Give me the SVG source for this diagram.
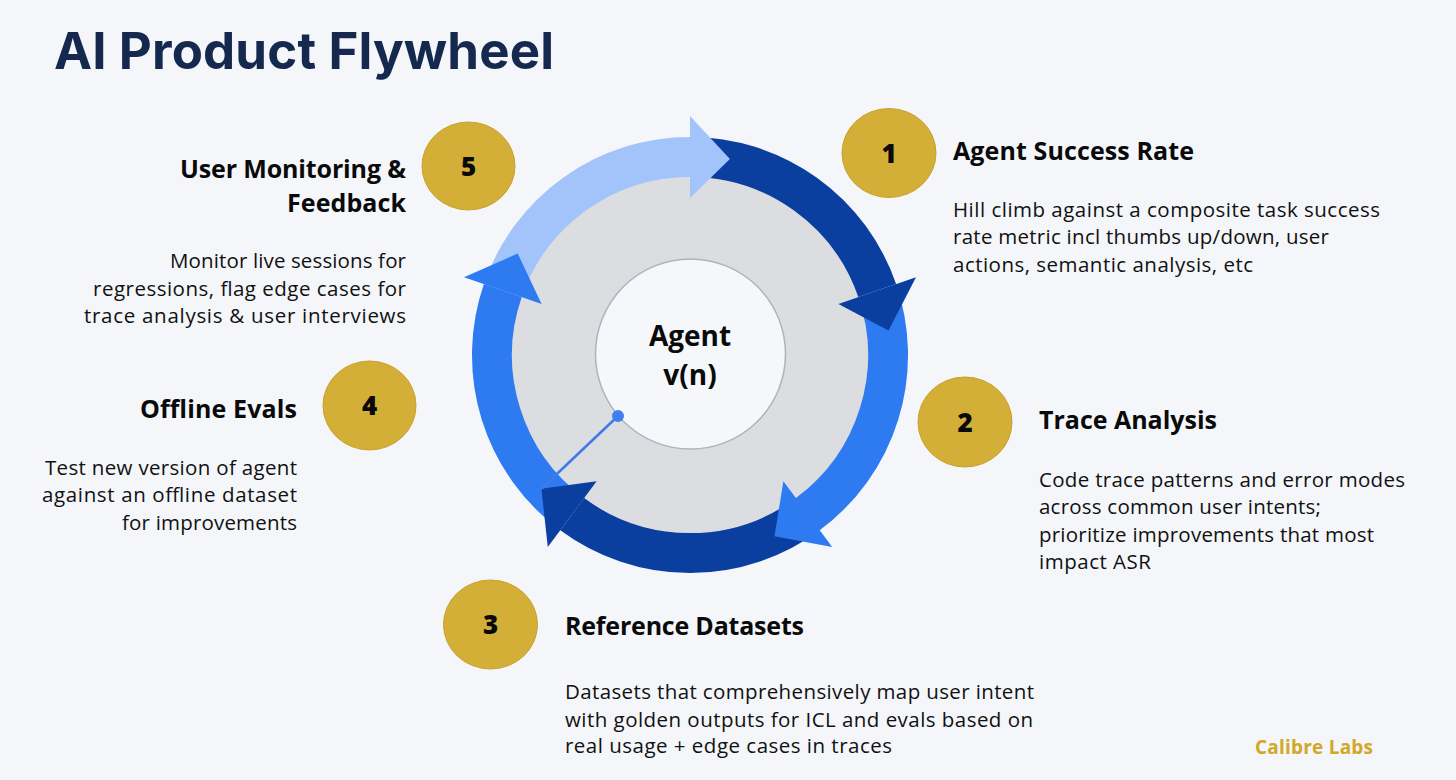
<svg xmlns="http://www.w3.org/2000/svg" width="1456" height="780" viewBox="0 0 1456 780">
<defs>
<style>
.title{font-family:Inter,"Open Sans",sans-serif;font-weight:700;font-size:51px;fill:#14294d}
.h{font-family:"Open Sans","Noto Sans",sans-serif;font-weight:700;font-size:25px;fill:#0a0a0a}
.b{font-family:"Open Sans","Noto Sans",sans-serif;font-weight:400;font-size:20.5px;fill:#111111}
.num{font-family:"Open Sans","Noto Sans",sans-serif;font-weight:800;font-size:26px;fill:#0a0a0a;text-anchor:middle}
.gold{fill:#d4af37;stroke:#c8a22c;stroke-width:1}
.shaft{fill:none;stroke-width:40;stroke-linecap:butt}
.light{stroke:#a3c4fa}
.dark{stroke:#0a3f9f}
.mid{stroke:#2e7bf1}
.hl{fill:#a3c4fa}
.hd{fill:#0a3f9f}
.hm{fill:#2e7bf1}
.center{font-family:"Open Sans","Noto Sans",sans-serif;font-weight:700;font-size:28px;fill:#0a0a0a;text-anchor:middle}
.r{text-anchor:end}
</style>
</defs>
<rect width="1456" height="780" fill="#f4f6fa"/>
<text class="title" x="54" y="69" textLength="500">AI Product Flywheel</text>

<g id="wheel">
<circle cx="690" cy="355" r="200" fill="#dcdde1"/>
</g>
<g id="connectors">
<path class="shaft light" d="M502.8 290.5 A198 198 0 0 1 690 157"/>
<path class="shaft dark" d="M690 157 A198 198 0 0 1 877.2 290.5"/>
<path class="shaft mid" d="M877.2 290.5 A198 198 0 0 1 807.8 514.2"/>
<path class="shaft dark" d="M807.8 514.2 A198 198 0 0 1 572.2 514.2"/>
<path class="shaft mid" d="M572.2 514.2 A198 198 0 0 1 502.8 290.5"/>
<polygon class="hl" points="690,198 690,116 729.9,159"/>
<polygon class="hd" points="838.4,303.9 916,277.2 888.5,330.6"/>
<polygon class="hm" points="783.4,481.2 832.2,547.1 774.5,536.3"/>
<polygon class="hd" points="596.6,481.2 547.8,547.1 541.4,488.8"/>
<polygon class="hm" points="541.6,303.9 464,277.2 517.7,253.5"/>
<line x1="618" y1="416" x2="541" y2="489" stroke="#3d7be8" stroke-width="2.5"/>
</g>
<g id="agent">
<circle cx="690.5" cy="354" r="95" fill="#f5f7fb" stroke="#aab5bd" stroke-width="1.5"/>
<text class="center" x="690" y="346">Agent</text>
<text class="center" x="690" y="385">v(n)</text>
<circle cx="618" cy="416" r="6" fill="#3f80ec"/>
</g>

<g id="step1">
<ellipse class="gold" cx="889" cy="153" rx="47" ry="44.5"/>
<text class="num" x="889" y="163">1</text>
<text class="h" x="953" y="160" textLength="241">Agent Success Rate</text>
<text class="b" x="953" y="217" textLength="427">Hill climb against a composite task success</text>
<text class="b" x="953" y="244" textLength="376">rate metric incl thumbs up/down, user</text>
<text class="b" x="953" y="272" textLength="300">actions, semantic analysis, etc</text>
</g>
<g id="step2">
<ellipse class="gold" cx="965" cy="422" rx="47" ry="45"/>
<text class="num" x="965" y="432">2</text>
<text class="h" x="1039" y="429" textLength="178">Trace Analysis</text>
<text class="b" x="1039" y="487" textLength="366">Code trace patterns and error modes</text>
<text class="b" x="1039" y="514" textLength="282">across common user intents;</text>
<text class="b" x="1039" y="542" textLength="335">prioritize improvements that most</text>
<text class="b" x="1039" y="569" textLength="112">impact ASR</text>
</g>
<g id="step3">
<ellipse class="gold" cx="490.5" cy="624.5" rx="47" ry="44.5"/>
<text class="num" x="490.5" y="634">3</text>
<text class="h" x="565" y="635" textLength="239">Reference Datasets</text>
<text class="b" x="565" y="699" textLength="469">Datasets that comprehensively map user intent</text>
<text class="b" x="565" y="727" textLength="468">with golden outputs for ICL and evals based on</text>
<text class="b" x="565" y="753" textLength="327">real usage + edge cases in traces</text>
</g>
<g id="step4">
<ellipse class="gold" cx="369.5" cy="405.5" rx="46.5" ry="44.5"/>
<text class="num" x="369.5" y="415">4</text>
<text class="h r" x="297" y="418" textLength="157">Offline Evals</text>
<text class="b r" x="297" y="475" textLength="252">Test new version of agent</text>
<text class="b r" x="297" y="502" textLength="255">against an offline dataset</text>
<text class="b r" x="297" y="530" textLength="175">for improvements</text>
</g>
<g id="step5">
<ellipse class="gold" cx="468.5" cy="166" rx="46.5" ry="44"/>
<text class="num" x="468.5" y="176">5</text>
<text class="h r" x="406" y="178" textLength="226">User Monitoring &amp;</text>
<text class="h r" x="406" y="212" textLength="119">Feedback</text>
<text class="b r" x="406" y="268" textLength="236">Monitor live sessions for</text>
<text class="b r" x="406" y="296" textLength="313">regressions, flag edge cases for</text>
<text class="b r" x="406" y="323" textLength="322">trace analysis &amp; user interviews</text>
</g>
<text x="1255" y="754" textLength="118" style="font-family:'Open Sans','Noto Sans',sans-serif;font-weight:700;font-size:19px;fill:#d1a827">Calibre Labs</text>
</svg>
